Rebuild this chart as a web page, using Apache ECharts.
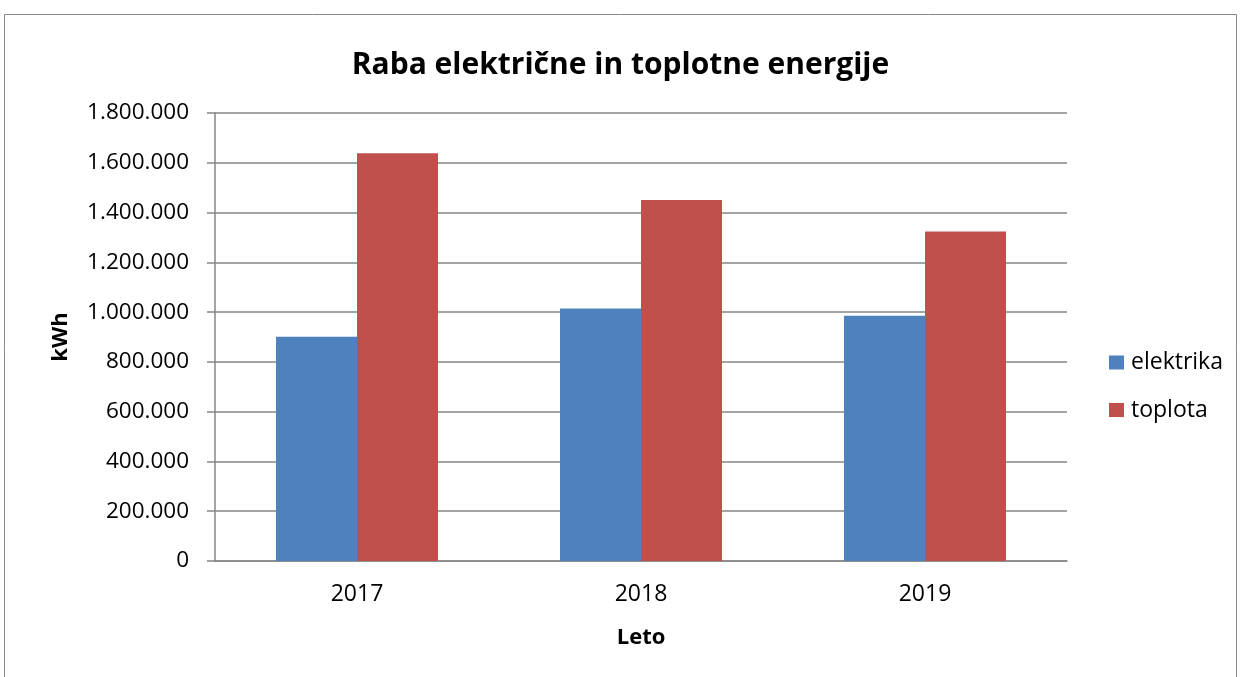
<!DOCTYPE html>
<html><head><meta charset="utf-8">
<script src="https://cdn.jsdelivr.net/npm/echarts@6/dist/echarts.min.js"></script>
<style>html,body{margin:0;padding:0;background:#fff}#c{width:1241px;height:677px}</style>
</head><body><div id="c"></div>
<script>
const categories = ['2017', '2018', '2019'];
const elektrika = [901000, 1015000, 985000];
const toplota = [1638000, 1450000, 1324000];
const seriesNames = ['elektrika', 'toplota'];
const titleText = 'Raba električne in toplotne energije';
const yName = 'kWh';
const xName = 'Leto';

const FONT = '"Open Sans", "Noto Sans", sans-serif';
const fmt = v => String(v).replace(/\B(?=(\d{3})+(?!\d))/g, '.');
const chart = echarts.init(document.getElementById('c'), null, {renderer: 'canvas'});
chart.setOption({
  animation: false,
  backgroundColor: '#fff',
  graphic: [{type: 'rect', shape: {x: 4.5, y: 14.5, width: 1232, height: 700}, style: {fill: 'none', stroke: '#888', lineWidth: 1}}],
  title: {text: titleText, left: 'center', top: 45, textStyle: {fontFamily: FONT, fontSize: 30, fontWeight: 'bold', color: '#000'}},
  legend: {orient: 'vertical', left: 1109, top: 350, padding: 0, itemGap: 22.5, itemWidth: 15, itemHeight: 14, icon: 'rect',
    textStyle: {fontFamily: FONT, fontSize: 23, lineHeight: 25, color: '#000', padding: [0, 0, 0, 2]}, data: seriesNames},
  grid: {left: 215, right: 174, top: 113, bottom: 116},
  xAxis: {type: 'category', data: categories,
    name: xName, nameLocation: 'middle', nameGap: 66,
    nameTextStyle: {fontFamily: FONT, fontSize: 22, fontWeight: 'bold', color: '#000'},
    axisLine: {lineStyle: {color: '#868686', width: 1.5}}, axisTick: {show: false},
    axisLabel: {fontFamily: FONT, fontSize: 23, color: '#000', margin: 22}},
  yAxis: {type: 'value', min: 0, max: 1800000, interval: 200000,
    name: yName, nameLocation: 'middle', nameGap: 143, nameRotate: 90,
    nameTextStyle: {fontFamily: FONT, fontSize: 22, fontWeight: 'bold', color: '#000'},
    axisLine: {show: true, lineStyle: {color: '#868686', width: 1.5}},
    axisTick: {show: true, length: 8, lineStyle: {color: '#868686', width: 1.5}},
    splitLine: {lineStyle: {color: '#868686', width: 1.5}},
    axisLabel: {fontFamily: FONT, fontSize: 22.5, color: '#000', margin: 26, formatter: fmt}},
  series: [
    {name: seriesNames[0], type: 'bar', data: elektrika, barWidth: 81, barGap: '0%', itemStyle: {color: '#4F81BD'}},
    {name: seriesNames[1], type: 'bar', data: toplota, barWidth: 81, barGap: '0%', itemStyle: {color: '#C0504D'}}
  ]
});
</script></body></html>
